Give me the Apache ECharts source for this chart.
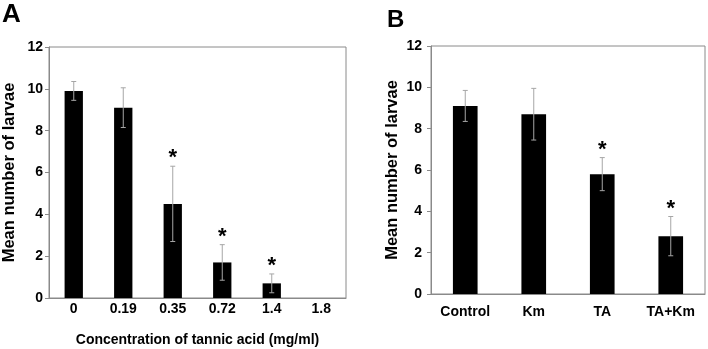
<!DOCTYPE html>
<html><head><meta charset="utf-8">
<script src="https://cdn.jsdelivr.net/npm/echarts@6/dist/echarts.min.js"></script>
<style>html,body{margin:0;padding:0;background:#fff}#c{width:708px;height:349px}</style>
</head><body><div id="c"></div>
<script>
var catsA = ['0','0.19','0.35','0.72','1.4','1.8'];
var meanA = [9.9, 9.1, 4.5, 1.7, 0.7, 0];
var errA  = [0.45, 0.95, 1.8, 0.85, 0.45, null];
var sigA  = [0, 0, 1, 1, 1, 0];
var catsB = ['Control','Km','TA','TA+Km'];
var meanB = [9.1, 8.7, 5.8, 2.8];
var errB  = [0.75, 1.25, 0.8, 0.95];
var sigB  = [0, 0, 1, 1];
var yTicks = [0, 2, 4, 6, 8, 10, 12];

var FONT = '"Liberation Sans", Arial, sans-serif';
var AXC = '#8a8a8a';
var ERC = '#a6a6a6';

function errData(cats, mean, err, sig){
  var d = [];
  for (var i=0;i<cats.length;i++){
    if (err[i] == null) continue;
    d.push([i, mean[i], err[i], sig[i]]);
  }
  return d;
}
function renderErr(params, api){
  var x = api.value(0), m = api.value(1), e = api.value(2), s = api.value(3);
  var top = api.coord([x, m+e]);
  var bot = api.coord([x, m-e]);
  var cw = 2.5;
  var ch = [
    {type:'line', shape:{x1:top[0],y1:top[1],x2:bot[0],y2:bot[1]}, style:{stroke:ERC,lineWidth:1}},
    {type:'line', shape:{x1:top[0]-cw,y1:top[1],x2:top[0]+cw,y2:top[1]}, style:{stroke:ERC,lineWidth:1}},
    {type:'line', shape:{x1:bot[0]-cw,y1:bot[1],x2:bot[0]+cw,y2:bot[1]}, style:{stroke:ERC,lineWidth:1}}
  ];
  if (s) {
    ch.push({type:'text', style:{text:'*', x:top[0], y:top[1]+3, align:'center', verticalAlign:'bottom',
      font:'bold 22px '+FONT, fill:'#000'}});
  }
  return {type:'group', children:ch};
}
function yAxis(gi, margin){
  return {
    gridIndex: gi, type:'value', min:0, max:12, interval:2,
    name:'Mean number of larvae', nameLocation:'middle', nameGap: gi===0?31:30,
    nameTextStyle:{fontFamily:FONT, fontWeight:'bold', fontSize:16.5, color:'#000'},
    axisLine:{show:true, lineStyle:{color:AXC, width:1}},
    axisTick:{show:true, length:4, lineStyle:{color:AXC}},
    splitLine:{show:false},
    axisLabel:{margin:margin, fontFamily:FONT, fontWeight:'bold', fontSize:14, color:'#000',
      formatter:function(v){return yTicks.indexOf(v)>=0? String(v):'';}}
  };
}
var chart = echarts.init(document.getElementById('c'), null, {renderer:'canvas'});
chart.setOption({
  animation:false,
  backgroundColor:'#fff',
  graphic:[
    {type:'text', left:2, top:2, style:{text:'A', font:'bold 26px '+FONT, fill:'#000'}},
    {type:'text', left:387, top:8, style:{text:'B', font:'bold 24px '+FONT, fill:'#000'}}
  ],
  grid:[
    {left:49, top:47, right:362, bottom:51, show:true, borderColor:AXC, borderWidth:1, containLabel:false, outerBoundsMode:'none'},
    {left:431, top:46, right:3, bottom:55, show:true, borderColor:AXC, borderWidth:1, containLabel:false, outerBoundsMode:'none'}
  ],
  xAxis:[
    {gridIndex:0, type:'category', data:catsA,
     name:'Concentration of tannic acid (mg/ml)', nameLocation:'middle', nameGap:35,
     nameTextStyle:{fontFamily:FONT, fontWeight:'bold', fontSize:14, color:'#000'},
     axisLine:{lineStyle:{color:AXC}}, axisTick:{show:false},
     axisLabel:{margin:4, fontFamily:FONT, fontWeight:'bold', fontSize:14, color:'#000'}},
    {gridIndex:1, type:'category', data:catsB,
     axisLine:{lineStyle:{color:AXC}}, axisTick:{show:false},
     axisLabel:{margin:11, fontFamily:FONT, fontWeight:'bold', fontSize:14, color:'#000'}}
  ],
  yAxis:[ yAxis(0, 6), yAxis(1, 9) ],
  series:[
    {type:'bar', xAxisIndex:0, yAxisIndex:0, data:meanA, barWidth:'37%', itemStyle:{color:'#000'}},
    {type:'custom', xAxisIndex:0, yAxisIndex:0, data:errData(catsA, meanA, errA, sigA), renderItem:renderErr, z:5},
    {type:'bar', xAxisIndex:1, yAxisIndex:1, data:meanB, barWidth:'36%', itemStyle:{color:'#000'}},
    {type:'custom', xAxisIndex:1, yAxisIndex:1, data:errData(catsB, meanB, errB, sigB), renderItem:renderErr, z:5}
  ]
});
</script></body></html>
